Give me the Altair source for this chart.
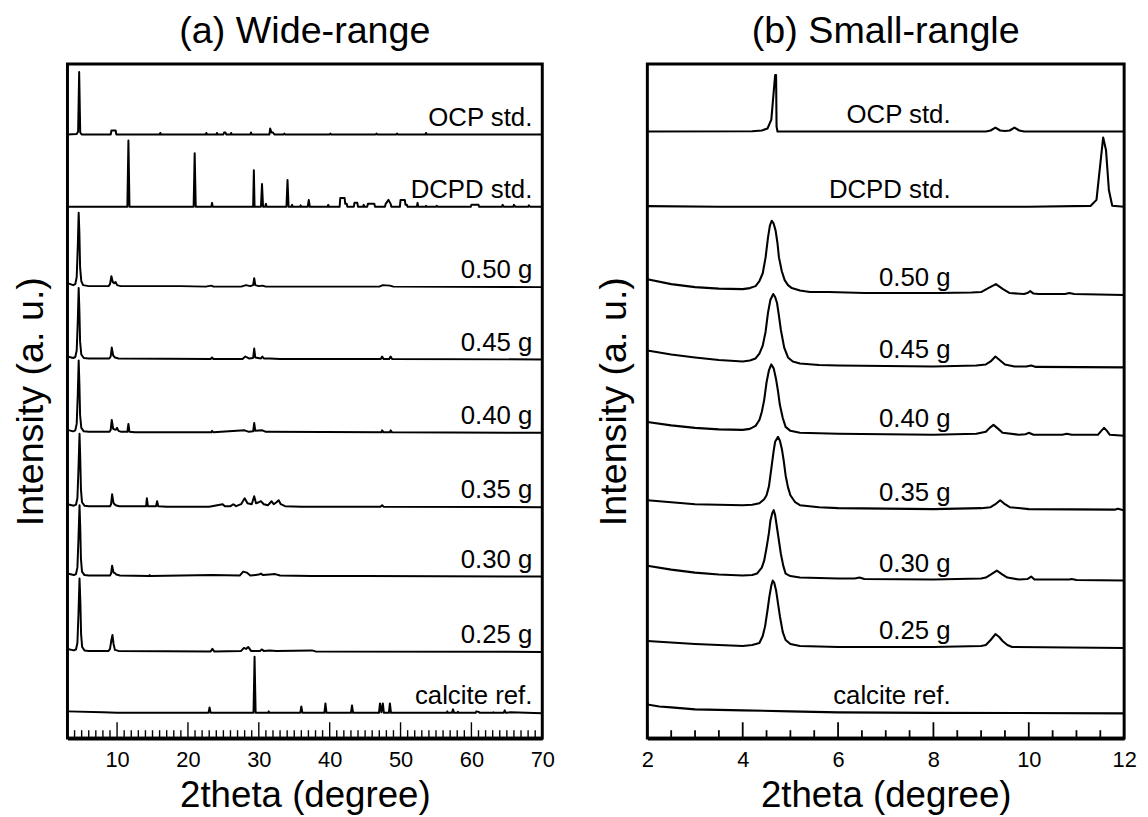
import altair as alt
import pandas as pd

FONT = "Liberation Sans"

NAMES = ["OCP std.", "DCPD std.", "0.50 g", "0.45 g", "0.40 g", "0.35 g", "0.30 g", "0.25 g", "calcite ref."]
OFFSETS_WIDE = [609, 536, 455, 382, 308, 233, 163, 87, 25]
OFFSETS_SMALL = [612, 536, 447, 374, 305, 230, 159, 91, 25]

# ---------------- (a) wide range: (2theta, intensity) vertices
WIDE_OCP = [(3.0,0),(4.3,0.5),(4.5,3),(4.65,63),(4.8,2),(5.0,0),(9.1,0),(9.2,4),(9.8,4),(9.9,0),
            (16.0,0),(16.1,1.5),(16.2,0),(22.5,0),(22.6,1.5),(22.7,0),(24.0,0),(24.1,1.5),(24.2,0),
            (25.0,0),(25.1,2),(25.3,2),(25.4,0),(26.0,0),(26.1,1.5),(26.2,0),(28.8,0),(28.9,2),(29.0,0),
            (31.5,0),(31.6,6),(31.8,2),(32.0,2),(32.2,0),(33.5,0),(33.6,1),(33.7,0),(40.0,0),(40.1,1),
            (40.2,0),(46.5,0),(46.6,1),(46.7,0),(49.4,0),(49.5,1),(49.6,0),(53.5,0),(53.6,1.5),(53.7,0),(70,0)]
WIDE_DCPD = [(3,0),(11.45,0),(11.6,67),(11.75,0),(20.8,0),(20.95,54),(21.1,0),(23.3,0),(23.4,4),(23.5,0),
             (29.2,0),(29.3,37),(29.4,0),(30.3,0),(30.45,23),(30.6,0),(30.9,0),(31.0,3),(31.1,0),
             (33.9,0),(34.05,27),(34.2,0),(34.6,0),(34.7,2),(34.8,0),(35.8,0),(35.9,1.5),(36.0,0),
             (36.9,0),(37.05,7),(37.2,0),(39.7,0),(39.8,2),(39.9,0),(41.4,0),(41.5,9),(42.1,9),(42.2,3),
             (42.4,3),(42.5,0),(43.4,0),(43.5,4),(43.9,4),(44.0,0),(44.7,0),(44.8,2),(44.9,0),(45.3,0),
             (45.4,3),(46.3,3),(46.4,0),(47.8,0),(47.9,3),(48.3,7),(48.6,3),(48.7,0),(49.9,0),(50.0,7),
             (50.6,7),(50.7,2),(50.9,2),(51.0,0),(52.3,0),(52.4,4),(52.5,0),(53.5,0),(53.6,1),(53.7,0),
             (55.0,0),(55.1,1),(55.3,0),(59.9,0),(60.0,2),(61.0,2),(61.1,0),(64.3,0),(64.4,2),(64.6,0),
             (65.9,0),(66.0,2),(66.2,0),(68.0,0),(68.1,1.5),(68.3,0),(70,0)]
WIDE_050 = [(3,4),(3.8,2),(4.1,3),(4.3,10),(4.45,40),(4.58,75),(4.68,55),(4.78,20),(4.95,6),(5.2,2),(6,1),
            (8.8,1),(9.0,3),(9.2,11),(9.4,5),(9.6,4),(9.8,5),(10.0,2),(10.5,1),(19,1),(22.5,0.5),(23.3,1.5),
            (23.6,0.5),(27.5,0.5),(28.2,2),(28.8,1),(29.2,2),(29.35,9),(29.5,2),(30,1),(30.5,1.5),(31,0.5),
            (36,0.5),(47,0.5),(47.5,2),(48.5,1.5),(49,0.5),(70,0)]
WIDE_045 = [(3,3),(3.8,1.5),(4.1,2.5),(4.3,9),(4.45,38),(4.58,72),(4.68,50),(4.78,18),(4.95,5),(5.3,1.5),
            (6,1),(8.9,1),(9.1,3),(9.25,12),(9.45,4),(9.7,2),(10.2,1),(23.2,0.5),(23.4,2),(23.6,0.5),
            (27.7,0.5),(28.1,3),(28.6,1),(29.2,1.5),(29.35,11),(29.5,2),(30.3,1),(30.5,3),(30.7,1),(31.5,1),
            (33,0.5),(47.2,0.5),(47.4,3),(47.6,0.5),(48.4,0.5),(48.6,3),(48.8,0.5),(70,0)]
WIDE_040 = [(3,3),(3.8,1.5),(4.1,2.5),(4.3,9),(4.45,38),(4.58,73),(4.68,50),(4.78,18),(4.95,5),(5.3,1.5),
            (6,1),(8.9,1),(9.1,3),(9.25,13),(9.45,4),(9.8,3),(10.0,5),(10.2,2),(10.6,1),(11.45,1),(11.6,9),
            (11.75,1),(12.5,0.5),(23.3,0.5),(23.4,2),(23.6,0.5),(28,2.5),(28.6,1),(29.2,1.5),(29.35,10),
            (29.5,2),(30.5,2.5),(31,1),(47.3,0.5),(47.4,2.5),(47.6,0.5),(48.5,0.5),(48.6,2.5),(48.8,0.5),(70,0)]
WIDE_035 = [(3,3),(3.9,1.5),(4.2,2.5),(4.4,9),(4.55,38),(4.7,74),(4.8,50),(4.9,18),(5.05,5),(5.4,1.5),(6,1),
            (9.0,1),(9.15,3),(9.3,13),(9.5,4),(9.8,2),(10.3,1),(14.1,1),(14.2,9),(14.35,1),(15.5,1),
            (15.65,6),(15.8,1),(17,0.5),(23,0.5),(24.9,3),(25.2,1),(26,1),(26.4,3),(26.8,1),(27.5,3),
            (28.0,9),(28.4,4),(29.0,3),(29.35,11),(29.6,4),(30.0,5),(30.3,6),(30.7,3),(31.3,2),(31.8,6),
            (32.1,3),(32.5,5),(32.8,7),(33.1,3),(33.7,1),(36,0.5),(47.2,0.5),(47.4,2),(47.6,0.5),(70,0)]
WIDE_030 = [(3,3),(3.9,1.5),(4.2,2.5),(4.4,9),(4.55,38),(4.7,72),(4.8,50),(4.9,18),(5.05,5),(5.4,1.5),(6,1),
            (9.0,1),(9.15,3),(9.3,11),(9.5,4),(9.7,3.5),(9.9,2),(10.4,1),(14.5,0.5),(14.6,1.5),(14.7,0.5),
            (23.4,1.5),(27.3,1),(27.8,5),(28.3,4),(28.8,1),(30.0,2),(30.3,3),(30.6,1.5),(31.5,2),(32.3,2.5),
            (33,1),(37.5,0.5),(45,0.5),(70,0)]
WIDE_025 = [(3,3),(3.9,1.5),(4.2,2.5),(4.4,9),(4.55,38),(4.7,74),(4.82,50),(4.92,18),(5.07,5),(5.4,1.5),(6,1),
            (8.8,1),(9.0,3),(9.2,12),(9.35,17),(9.5,8),(9.7,2),(10.2,1),(23.2,0.5),(23.45,3),(23.7,0.5),
            (27.5,1),(27.9,4),(28.2,3),(28.5,5),(28.9,1),(30.2,1),(30.4,2.5),(30.7,1),(31.5,1.5),(32.5,1),
            (37.5,1.5),(38,0.5),(70,0)]
WIDE_CAL = [(3,2),(8,1),(10,0.5),(22.9,0.5),(23.05,6),(23.2,0.5),(29.25,0.5),(29.4,57),(29.55,0.5),(31.3,0.5),
            (31.4,2),(31.5,0.5),(35.85,0.5),(36.0,7),(36.15,0.5),(39.25,0.5),(39.4,10),(39.55,0.5),(43.0,0.5),
            (43.15,8),(43.3,0.5),(46.95,0.5),(47.1,10),(47.3,1),(47.5,10),(47.65,0.5),(48.35,0.5),(48.5,10),
            (48.65,0.5),(56.5,0.5),(56.6,2),(56.7,0.5),(57.25,0.5),(57.4,4),(57.55,0.5),(58.0,0.5),(58.1,1.5),
            (58.2,0.5),(60.6,0.5),(60.7,2),(61.0,1.5),(61.2,0.5),(63.0,0.5),(63.1,1),(63.2,0.5),(64.55,0.5),
            (64.7,3),(64.85,0.5),(65.5,1),(70,0)]

# ---------------- (b) small range
SMALL_OCP = [(2,0),(4.2,0.3),(4.4,1),(4.52,3),(4.6,12),(4.65,40),(4.68,57),(4.7,57),(4.71,5),(4.73,0),
             (9.1,0),(9.2,1),(9.3,4),(9.4,1),(9.5,0.5),(9.6,1),(9.7,4),(9.8,1),(9.9,0),(12,0)]
SMALL_DCPD = [(2,0.7),(3.5,0),(10,0),(11.3,1),(11.42,7),(11.5,43),(11.56,70),(11.62,57),(11.68,17),
              (11.75,1),(12,0)]
SMALL_050 = [(2,16),(2.5,11),(3,8),(3.5,6.5),(4,6),(4.15,7),(4.27,9),(4.35,14),(4.42,22),(4.48,38),(4.53,58),
             (4.57,70),(4.61,75),(4.65,72),(4.69,65),(4.73,52),(4.76,38),(4.82,24),(4.88,15),(4.95,10),
             (5.03,7),(5.2,4.5),(5.41,3),(5.8,3),(6.56,2),(8.08,2),(8.8,2.5),(9.0,3),(9.15,7),(9.31,11),
             (9.46,6),(9.6,2),(9.9,1),(9.97,2),(10.03,4),(10.1,1.5),(10.2,1),(10.76,1),(10.85,2),(10.95,1),(12,0)]
SMALL_045 = [(2,17),(2.5,13),(3,10),(3.5,7.5),(4,6),(4.15,7),(4.27,9),(4.35,14),(4.42,22),(4.48,36),(4.53,55),
             (4.58,68),(4.64,74),(4.68,71),(4.72,65),(4.76,52),(4.8,38),(4.87,20),(4.95,10),(5.05,6),(5.2,4),
             (5.6,2.5),(6,2),(8,1),(8.9,2),(9.1,3),(9.2,6),(9.3,11),(9.4,7),(9.5,3),(9.7,1),(9.95,1),
             (10.05,2),(10.15,0.5),(12,0)]
SMALL_040 = [(2,14),(2.5,10.5),(3,8),(3.5,6.5),(4,6),(4.15,7),(4.27,10),(4.35,16),(4.4,24),(4.45,36),(4.5,54),
             (4.55,66),(4.6,72),(4.65,68),(4.7,57),(4.74,45),(4.78,31),(4.84,18),(4.9,9),(5.0,5),(5.2,3),
             (6,2),(8,1),(8.9,2),(9.1,4),(9.18,8),(9.26,11),(9.36,7),(9.45,3),(9.8,1),(9.93,1.5),(10.0,3),
             (10.1,1),(10.7,1),(10.8,2),(10.9,1),(11.45,1),(11.52,5),(11.58,8),(11.64,5),(11.7,1),(12,0)]
SMALL_035 = [(2,10),(2.5,8),(3,6),(3.5,5.5),(4,5),(4.2,5.5),(4.35,7),(4.45,11),(4.5,15),(4.55,24),(4.6,42),
             (4.65,60),(4.68,69),(4.74,74),(4.78,70),(4.82,62),(4.86,50),(4.9,35),(4.95,23),(5.0,15),(5.1,8),
             (5.2,5),(5.6,3),(6,2),(8,1),(9.0,2),(9.2,3),(9.3,6),(9.4,10),(9.5,6),(9.6,3),(10,1),(11.8,0.5),
             (11.87,1.5),(11.95,0.5),(12,0)]
SMALL_030 = [(2,15),(2.5,11),(3,8),(3.5,6),(4,5),(4.2,5.5),(4.3,7),(4.4,13),(4.45,20),(4.5,33),(4.55,48),
             (4.58,60),(4.62,68),(4.65,71),(4.68,66),(4.72,53),(4.76,40),(4.8,27),(4.85,15),(4.9,7),(5.0,4.5),
             (5.2,3),(6,2),(6.35,2),(6.45,3),(6.55,1.5),(8,1),(9.0,2),(9.1,3),(9.2,6),(9.33,10),(9.45,6),
             (9.55,3),(9.8,1),(9.97,1.5),(10.05,4),(10.12,1),(10.85,1),(10.9,1.5),(11,0.5),(12,0)]
SMALL_025 = [(2,7),(2.5,5.5),(3,4),(3.5,3),(4,2),(4.2,3),(4.35,5),(4.42,12),(4.47,22),(4.52,38),(4.56,52),
             (4.6,63),(4.63,68),(4.66,66),(4.7,58),(4.74,45),(4.78,32),(4.84,16),(4.9,8),(5.0,4),(5.2,2),
             (6,1),(8,1),(9.0,2),(9.1,3),(9.2,8),(9.3,14),(9.38,11),(9.45,7),(9.55,3),(9.65,1),(12,0)]
SMALL_CAL = [(2,9),(2.25,7),(2.5,6),(3,4),(4,3),(5,2),(6,1),(8,0.5),(12,0)]

WIDE = [WIDE_OCP, WIDE_DCPD, WIDE_050, WIDE_045, WIDE_040, WIDE_035, WIDE_030, WIDE_025, WIDE_CAL]
SMALL = [SMALL_OCP, SMALL_DCPD, SMALL_050, SMALL_045, SMALL_040, SMALL_035, SMALL_030, SMALL_025, SMALL_CAL]

WIDE_MAJOR = [10, 20, 30, 40, 50, 60, 70]
WIDE_MINOR = [v for v in range(4, 70) if v % 10 != 0]
SMALL_MAJOR = [2, 4, 6, 8, 10, 12]
SMALL_MINOR = [2.5, 3, 3.5, 4.5, 5, 5.5, 6.5, 7, 7.5, 8.5, 9, 9.5, 10.5, 11, 11.5]

H = 680
LABEL_GAP = 9


def traces_df(traces, offsets):
    rows = []
    for name, pts, off in zip(NAMES, traces, offsets):
        for i, (x, v) in enumerate(pts):
            rows.append({"trace": name, "x": x, "y": off + v, "i": i})
    return pd.DataFrame(rows)


def panel(traces, offsets, domain, major, minor, label_x, align, width, title, major_len, minor_len,
          tick_w, line_w, ytitle_pad):
    X = alt.X("x:Q", scale=alt.Scale(domain=domain, nice=False, zero=False),
              axis=alt.Axis(values=major, title="2theta (degree)", ticks=False, grid=False,
                            labelFlush=False, labelOverlap=False, labelPadding=12,
                            labelFontSize=22, titleFontSize=37, titlePadding=7,
                            domainWidth=4, domainColor="black", format="d"))
    Y = alt.Y("y:Q", scale=alt.Scale(domain=[0, H], nice=False, zero=False),
              axis=alt.Axis(title="Intensity (a. u.)", labels=False, ticks=False, domain=False,
                            grid=False, titleFontSize=38, titlePadding=ytitle_pad))
    lines = alt.Chart(traces_df(traces, offsets)).mark_line(
        color="black", strokeWidth=line_w, clip=True, strokeJoin="round"
    ).encode(x=X, y=Y, detail="trace:N", order="i:Q")
    lab = pd.DataFrame({"x": [label_x] * len(NAMES),
                        "y": [o + LABEL_GAP for o in offsets], "t": NAMES})
    labels = alt.Chart(lab).mark_text(align=align, baseline="alphabetic", fontSize=26,
                                      font=FONT, color="black").encode(x=X, y=Y, text="t:N")
    maj = alt.Chart(pd.DataFrame({"x": major})).mark_rule(color="black", strokeWidth=tick_w).encode(
        x=X, y=alt.value(H), y2=alt.value(H - major_len))
    mnr = alt.Chart(pd.DataFrame({"x": minor})).mark_rule(color="black", strokeWidth=tick_w).encode(
        x=X, y=alt.value(H), y2=alt.value(H - minor_len))
    return alt.layer(lines, labels, maj, mnr).properties(
        width=width, height=H,
        title=alt.Title(title, fontSize=38, fontWeight="normal", font=FONT, color="black",
                        baseline="alphabetic", offset=-17, anchor="middle"))


left = panel(WIDE, OFFSETS_WIDE, [3, 70], WIDE_MAJOR, WIDE_MINOR, 68.6, "right", 479,
             "(a) Wide-range", 16, 8, 1.4, 2.0, 17)
right = panel(SMALL, OFFSETS_SMALL, [2, 12], SMALL_MAJOR, SMALL_MINOR, 8.36, "right", 481,
              "(b) Small-rangle", 16, 8, 1.8, 2.1, 14)

chart = alt.hconcat(left, right, spacing=38).properties(
    padding={"left": 3, "top": 0, "right": 2, "bottom": 0}
).configure(font=FONT).configure_view(stroke="black", strokeWidth=3).configure_axis(
    labelColor="black", titleColor="black", labelFont=FONT, titleFont=FONT, titleFontWeight="normal"
)

chart.save("out.html", embed_options={"renderer": "svg", "actions": False})
